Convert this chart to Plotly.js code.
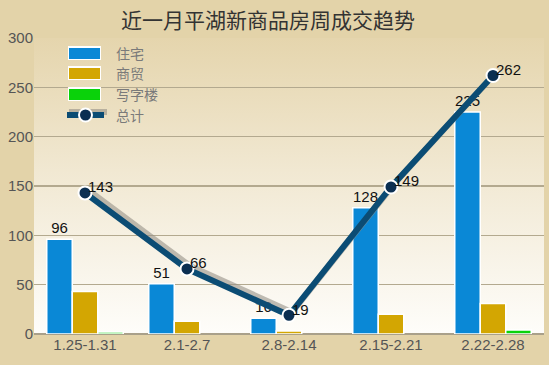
<!DOCTYPE html>
<html><head><meta charset="utf-8">
<script src="https://cdn.plot.ly/plotly-3.0.1.min.js"></script>
<style>body{margin:0;background:#e3d3a9}</style>
</head><body>
<div id="chart" style="width:549px;height:365px"></div>
<script>
const categories = ["1.25-1.31", "2.1-2.7", "2.8-2.14", "2.15-2.21", "2.22-2.28"];
const residential = [96, 51, 16, 128, 225];
const commercial = [43, 13, 3, 20, 31];
const office = [2, 0, 0, 0, 4];
const total = [143, 66, 19, 149, 262];
const seriesNames = ["住宅", "商贸", "写字楼", "总计"];
const chartTitle = "近一月平湖新商品房周成交趋势";
const yTicks = [0, 50, 100, 150, 200, 250, 300];

const colors = {res: "#0a88d6", com: "#d3a602", off: "#0ad20a", line: "#0b4c74", marker: "#0b2f52"};

const gradSvg = '<svg xmlns="http://www.w3.org/2000/svg" width="10" height="100" preserveAspectRatio="none"><defs><linearGradient id="g" x1="0" y1="0" x2="0" y2="1"><stop offset="0" stop-color="#e5d5ad"/><stop offset="0.45" stop-color="#f1e8d2"/><stop offset="1" stop-color="#fefdfa"/></linearGradient></defs><rect width="10" height="100" fill="url(#g)"/></svg>';
const gradUri = 'data:image/svg+xml;base64,' + btoa(gradSvg);

const font = "Liberation Sans, Arial, sans-serif";
const lw = v => v > 0 ? 1.5 : 0;
const shadowColor = "rgba(150,145,135,0.6)";

const traces = [
  {type: "bar", name: seriesNames[0], x: categories, y: residential,
   marker: {color: colors.res, line: {color: "#fff", width: residential.map(lw)}},
   text: residential.map(String), textposition: "outside",
   textfont: {family: font, size: 15, color: "#111"}, cliponaxis: false},
  {type: "bar", name: seriesNames[1], x: categories, y: commercial,
   marker: {color: colors.com, line: {color: "#fff", width: commercial.map(lw)}}, textposition: "none"},
  {type: "bar", name: seriesNames[2], x: categories, y: office,
   marker: {color: colors.off, line: {color: "#fff", width: office.map(lw)}}, textposition: "none"},
  {type: "scatter", mode: "lines", x: categories, y: total, xaxis: "x2", yaxis: "y2",
   line: {color: shadowColor, width: 6}, hoverinfo: "skip"},
  {type: "scatter", mode: "lines+markers", name: seriesNames[3], x: categories, y: total,
   xaxis: "x3", yaxis: "y3",
   line: {color: colors.line, width: 6},
   marker: {color: colors.marker, size: 13, line: {color: "#ffffff", width: 2}}, cliponaxis: false}
];

const annotations = total.map((v, i) => ({
  x: categories[i], y: v, xref: "x", yref: "y", text: String(v), showarrow: false,
  xanchor: "left", yanchor: "middle", xshift: 1, yshift: 6,
  font: {family: font, size: 15, color: "#111"}
}));

// custom legend (bars as wide rectangles, line with marker); pixel -> plot-area paper coords
const PL = 34, PR = 544, PT = 38, PB = 334;
const px = (x) => (x - PL) / (PR - PL), py = (y) => (PB - y) / (PB - PT);
const legRows = [53, 73, 94, 115];
const legColors = [colors.res, colors.com, colors.off];
const shapes = [];
legColors.forEach((c, i) => {
  shapes.push({type: "rect", xref: "paper", yref: "paper", x0: px(68), x1: px(101),
    y0: py(legRows[i] + 7), y1: py(legRows[i] - 7), fillcolor: "#fff", line: {width: 0}});
  shapes.push({type: "rect", xref: "paper", yref: "paper", x0: px(69), x1: px(100),
    y0: py(legRows[i] + 6), y1: py(legRows[i] - 5), fillcolor: c, line: {width: 0}});
});
shapes.push({type: "line", xref: "paper", yref: "paper", x0: px(69), x1: px(107),
  y0: py(legRows[3] - 3), y1: py(legRows[3] - 3), line: {color: shadowColor, width: 6}});
shapes.push({type: "line", xref: "paper", yref: "paper", x0: px(67), x1: px(104),
  y0: py(legRows[3]), y1: py(legRows[3]), line: {color: colors.line, width: 6}});
shapes.push({type: "circle", xref: "paper", yref: "paper", x0: px(79), x1: px(92),
  y0: py(legRows[3] + 6.5), y1: py(legRows[3] - 6.5), fillcolor: colors.marker, line: {color: "#fff", width: 2}});
seriesNames.forEach((n, i) => {
  annotations.push({xref: "paper", yref: "paper", x: px(114), y: py(legRows[i]), text: n,
    showarrow: false, xanchor: "left", yanchor: "middle",
    font: {family: "Noto Sans CJK SC, sans-serif", size: 14, color: "#7a7a7a"}});
});
// chart title as a centred annotation at the top of the figure
annotations.push({xref: "paper", yref: "paper", x: px(268), y: py(19), text: chartTitle,
  showarrow: false, xanchor: "center", yanchor: "middle",
  font: {family: "Noto Sans CJK SC, sans-serif", size: 21, color: "#333"}});

const layout = {
  width: 549, height: 365,
  paper_bgcolor: "#e3d3a9", plot_bgcolor: "rgba(0,0,0,0)",
  margin: {l: PL, r: 549 - PR, t: PT, b: 365 - PB},
  barmode: "group", bargap: 0.25, bargroupgap: 0,
  showlegend: false,
  xaxis: {type: "category", range: [-0.5, 4.5], showgrid: false, zeroline: false,
          ticks: "", tickfont: {family: font, size: 15, color: "#555"}, showline: false},
  yaxis: {range: [0, 300], tickvals: yTicks, showgrid: true, gridcolor: "#b3a98f", gridwidth: 1.5,
          zeroline: true, zerolinecolor: "#a9a08a", zerolinewidth: 2,
          ticks: "", tickfont: {family: font, size: 15, color: "#555"}},
  xaxis2: {type: "category", overlaying: "x", range: [-0.53, 4.47], visible: false},
  yaxis2: {overlaying: "y", range: [-3, 297], visible: false},
  xaxis3: {type: "category", overlaying: "x", range: [-0.5, 4.5], visible: false},
  yaxis3: {overlaying: "y", range: [0, 300], visible: false},
  annotations: annotations,
  shapes: shapes,
  images: [{source: gradUri, xref: "paper", yref: "paper", x: 0, y: 1, sizex: 1, sizey: 1,
            xanchor: "left", yanchor: "top", sizing: "stretch", layer: "below"}]
};

Plotly.newPlot("chart", traces, layout, {displayModeBar: false, staticPlot: true});
</script>
</body></html>
